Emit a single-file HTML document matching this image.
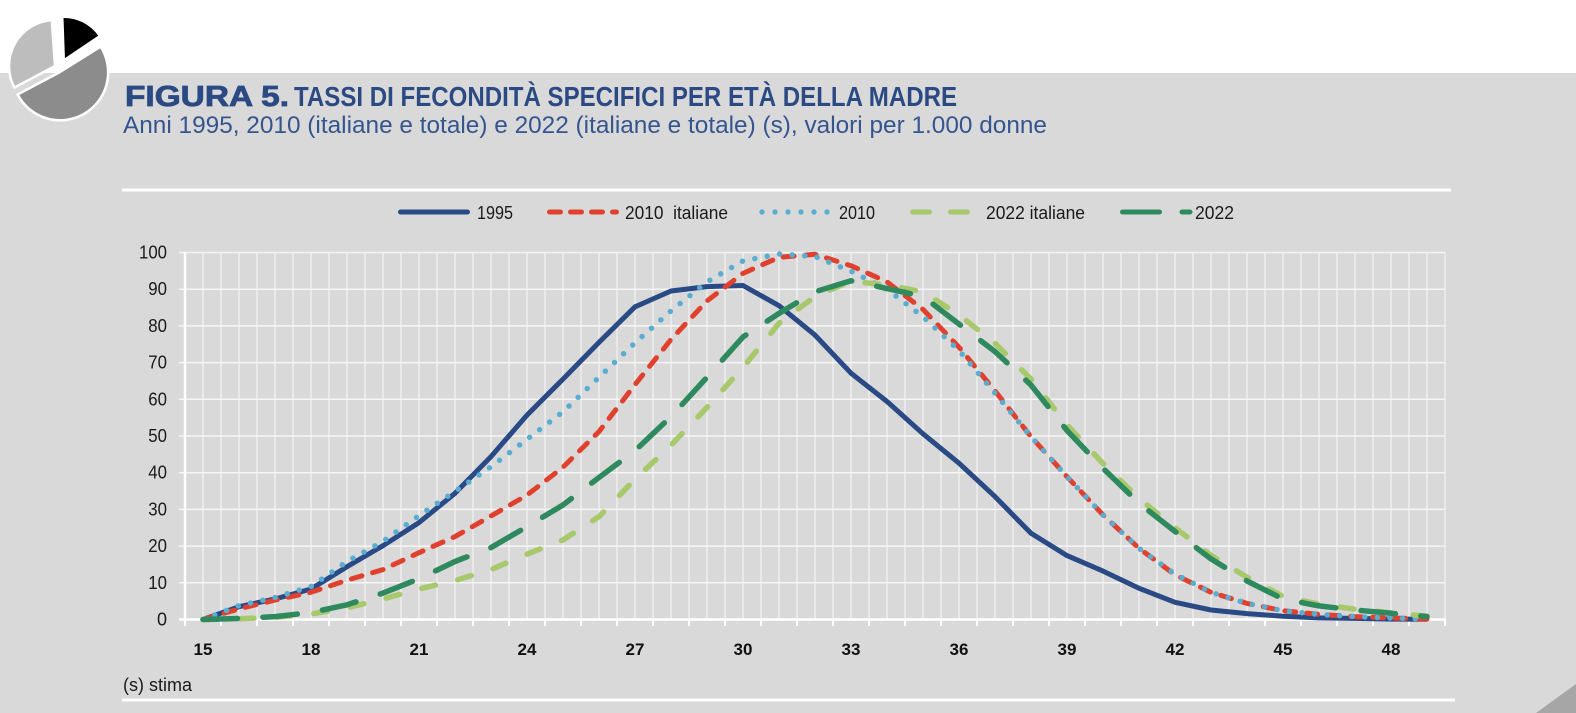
<!DOCTYPE html>
<html><head><meta charset="utf-8"><style>
html,body{margin:0;padding:0;background:#fff;}
svg{display:block;}
</style></head><body>
<svg width="1576" height="713" viewBox="0 0 1576 713" xmlns="http://www.w3.org/2000/svg">
<defs>
<pattern id="vg" x="184.4" y="0" width="18" height="713" patternUnits="userSpaceOnUse"><rect x="0" y="0" width="1.2" height="713" fill="#f3f3f3"/></pattern>
</defs>
<rect x="0" y="0" width="1576" height="713" fill="#ffffff"/>
<rect x="0" y="73" width="1576" height="640" fill="#d9d9d9"/>
<polygon points="1536,713 1576,713 1576,684" fill="#a6a6a6"/>

<!-- pie icon -->
<path d="M60,72 L100.7,46.6 A48,48 0 1 1 17.6,94.5 Z" fill="#8c8c8c" stroke="#fff" stroke-width="2.5"/>
<path d="M55,66 L14.4,87.6 A46,46 0 0 1 51.8,20.1 Z" fill="#bdbdbd" stroke="#fff" stroke-width="2.5"/>
<path d="M64,60 L62.5,17 A43,43 0 0 1 99.6,35.9 Z" fill="#000" stroke="#fff" stroke-width="2"/>

<!-- titles -->
<text x="125" y="106" font-family="Liberation Sans, Arial, sans-serif" font-weight="bold" font-size="29" fill="#2b4a84" stroke="#2b4a84" stroke-width="0.8" textLength="164" lengthAdjust="spacingAndGlyphs">FIGURA 5.</text>
<text x="294" y="106" font-family="Liberation Sans, Arial, sans-serif" font-weight="bold" font-size="28" fill="#2b4a84" textLength="663" lengthAdjust="spacingAndGlyphs">TASSI DI FECONDITÀ SPECIFICI PER ETÀ DELLA MADRE</text>
<text x="123" y="133" font-family="Liberation Sans, Arial, sans-serif" font-size="24" fill="#35558f" textLength="924" lengthAdjust="spacingAndGlyphs">Anni 1995, 2010 (italiane e totale) e 2022 (italiane e totale) (s), valori per 1.000 donne</text>

<!-- frame lines -->
<line x1="122" y1="190" x2="1451" y2="190" stroke="#fff" stroke-width="3"/>
<line x1="122" y1="700" x2="1455" y2="700" stroke="#fff" stroke-width="3"/>

<!-- legend -->
<g font-family="Liberation Sans, Arial, sans-serif" font-size="18" fill="#1a1a1a">
<line x1="400.5" y1="212" x2="467.5" y2="212" stroke="#2a4a85" stroke-width="5" stroke-linecap="round"/>
<text x="477" y="219" textLength="36" lengthAdjust="spacingAndGlyphs">1995</text>
<line x1="549.5" y1="212" x2="616.5" y2="212" stroke="#e0412f" stroke-width="5" stroke-linecap="round" stroke-dasharray="11 10"/>
<text x="625" y="219" textLength="103" lengthAdjust="spacingAndGlyphs">2010&#160; italiane</text>
<g fill="#5aadd0"><circle cx="762" cy="212" r="2.7"/><circle cx="775" cy="212" r="2.7"/><circle cx="788" cy="212" r="2.7"/><circle cx="801" cy="212" r="2.7"/><circle cx="814" cy="212" r="2.7"/><circle cx="827" cy="212" r="2.7"/></g>
<text x="839" y="219" textLength="36" lengthAdjust="spacingAndGlyphs">2010</text>
<line x1="912.5" y1="212" x2="929.5" y2="212" stroke="#a7c86b" stroke-width="5" stroke-linecap="round"/>
<line x1="950.5" y1="212" x2="967.5" y2="212" stroke="#a7c86b" stroke-width="5" stroke-linecap="round"/>
<text x="986" y="219" textLength="99" lengthAdjust="spacingAndGlyphs">2022 italiane</text>
<line x1="1122.5" y1="212" x2="1159.5" y2="212" stroke="#2e8a5e" stroke-width="5" stroke-linecap="round"/>
<line x1="1182" y1="212" x2="1190" y2="212" stroke="#2e8a5e" stroke-width="5" stroke-linecap="round"/>
<text x="1195" y="219" textLength="39" lengthAdjust="spacingAndGlyphs">2022</text>
</g>

<!-- grid -->
<rect x="184" y="252" width="1262" height="368" fill="url(#vg)"/>
<g stroke="#f5f5f5" stroke-width="1.5">
<line x1="179" y1="252.5" x2="1445" y2="252.5"/>
<line x1="179" y1="289.2" x2="1445" y2="289.2"/>
<line x1="179" y1="325.9" x2="1445" y2="325.9"/>
<line x1="179" y1="362.6" x2="1445" y2="362.6"/>
<line x1="179" y1="399.3" x2="1445" y2="399.3"/>
<line x1="179" y1="436" x2="1445" y2="436"/>
<line x1="179" y1="472.7" x2="1445" y2="472.7"/>
<line x1="179" y1="509.4" x2="1445" y2="509.4"/>
<line x1="179" y1="546.1" x2="1445" y2="546.1"/>
<line x1="179" y1="582.8" x2="1445" y2="582.8"/>
</g>
<line x1="185" y1="252" x2="185" y2="620" stroke="#fff" stroke-width="2.5"/>
<line x1="179" y1="619.5" x2="1446" y2="619.5" stroke="#fff" stroke-width="2.5"/>
<path d="M185 619V626M221 619V626M257 619V626M293 619V626M329 619V626M365 619V626M401 619V626M437 619V626M473 619V626M509 619V626M545 619V626M581 619V626M617 619V626M653 619V626M689 619V626M725 619V626M761 619V626M797 619V626M833 619V626M869 619V626M905 619V626M941 619V626M977 619V626M1013 619V626M1049 619V626M1085 619V626M1121 619V626M1157 619V626M1193 619V626M1229 619V626M1265 619V626M1301 619V626M1337 619V626M1373 619V626M1409 619V626M1445 619V626" stroke="#fff" stroke-width="2"/>

<!-- y labels -->
<g font-family="Liberation Sans, Arial, sans-serif" font-size="18" fill="#1a1a1a" text-anchor="end">
<text x="167" y="258.5" textLength="28" lengthAdjust="spacingAndGlyphs">100</text>
<text x="167" y="295.2" textLength="18.7" lengthAdjust="spacingAndGlyphs">90</text>
<text x="167" y="331.9" textLength="18.7" lengthAdjust="spacingAndGlyphs">80</text>
<text x="167" y="368.6" textLength="18.7" lengthAdjust="spacingAndGlyphs">70</text>
<text x="167" y="405.3" textLength="18.7" lengthAdjust="spacingAndGlyphs">60</text>
<text x="167" y="442" textLength="18.7" lengthAdjust="spacingAndGlyphs">50</text>
<text x="167" y="478.7" textLength="18.7" lengthAdjust="spacingAndGlyphs">40</text>
<text x="167" y="515.4" textLength="18.7" lengthAdjust="spacingAndGlyphs">30</text>
<text x="167" y="552.1" textLength="18.7" lengthAdjust="spacingAndGlyphs">20</text>
<text x="167" y="588.8" textLength="18.7" lengthAdjust="spacingAndGlyphs">10</text>
<text x="167" y="625.5">0</text>
</g>

<!-- x labels -->
<g font-family="Liberation Sans, Arial, sans-serif" font-size="17" font-weight="bold" fill="#111" text-anchor="middle">
<text x="203" y="655">15</text>
<text x="311" y="655">18</text>
<text x="419" y="655">21</text>
<text x="527" y="655">24</text>
<text x="635" y="655">27</text>
<text x="743" y="655">30</text>
<text x="851" y="655">33</text>
<text x="959" y="655">36</text>
<text x="1067" y="655">39</text>
<text x="1175" y="655">42</text>
<text x="1283" y="655">45</text>
<text x="1391" y="655">48</text>
</g>

<text x="123" y="691" font-family="Liberation Sans, Arial, sans-serif" font-size="18" fill="#1a1a1a">(s) stima</text>

<!-- series -->
<g fill="none" stroke-linejoin="round">
<polyline stroke="#2a4a85" stroke-width="5" points="203,619.5 239,606.7 275,599.0 311,589.0 347,566.7 383,545.7 419,522.6 455,493.3 491,456.6 527,415.1 563,379.1 599,342.4 635,306.8 671,291.0 707,286.6 743,285.5 779,305.7 815,335.1 851,373.2 887,401.5 923,433.8 959,463.2 995,496.6 1031,533.3 1067,555.6 1103,571.1 1139,588.3 1175,602.3 1211,610.0 1247,613.6 1283,616.2 1319,617.9 1355,618.4 1391,619.1 1427,619.3"/>
<polyline stroke="#e0412f" stroke-width="5" stroke-linecap="round" stroke-dasharray="11 11" points="203,619.5 239,608.9 275,600.1 311,592.3 347,580.2 383,569.6 419,552.7 455,536.6 491,516.0 527,495.1 563,467.2 599,431.6 635,384.6 671,339.5 707,300.9 743,273.4 779,257.3 815,254.3 851,265.7 887,281.9 923,309.4 959,347.2 995,390.9 1031,436.7 1067,476.7 1103,514.9 1139,548.3 1175,574.7 1211,592.3 1247,603.4 1283,610.7 1319,614.4 1355,616.6 1391,618.0 1427,619.0"/>
<polyline stroke="#5aadd0" stroke-width="5.5" stroke-linecap="round" stroke-dasharray="0 12.6" points="203,619.5 239,605.6 275,597.5 311,586.5 347,561.5 383,541.3 419,515.6 455,491.4 491,466.8 527,439.3 563,411.8 599,377.3 635,342.8 671,310.9 707,281.9 743,260.9 779,254.0 815,256.5 851,271.2 887,289.2 923,316.7 959,350.5 995,393.1 1031,436.7 1067,476.7 1103,514.9 1139,548.3 1175,574.0 1211,592.3 1247,603.4 1283,610.7 1319,614.4 1355,616.6 1391,618.0 1427,619.0"/>
<polyline stroke="#a7c86b" stroke-width="5.5" stroke-linecap="round" stroke-dasharray="14 23" points="203,619.5 239,618.8 275,617.3 311,614.0 347,607.8 383,599.0 419,589.0 455,580.6 491,569.6 527,554.2 563,539.9 599,516.7 635,479.3 671,445.2 707,407.4 743,367.4 779,323.3 815,296.5 851,281.1 887,285.2 923,291.8 959,314.9 995,343.2 1031,379.1 1067,425.0 1103,463.5 1139,498.4 1175,527.8 1211,555.3 1247,577.3 1283,596.4 1319,604.1 1355,609.2 1391,612.9 1427,616.2"/>
<polyline stroke="#2e8a5e" stroke-width="5.5" stroke-linecap="round" stroke-dasharray="34.5 25.5" points="203,619.5 239,618.4 275,616.6 311,612.5 347,604.8 383,593.1 419,578.8 455,561.5 491,547.6 527,526.6 563,505.0 599,477.5 635,450.7 671,416.6 707,377.3 743,336.9 779,313.4 815,291.8 851,280.8 887,288.5 923,296.5 959,324.1 995,351.6 1031,385.0 1067,430.5 1103,468.3 1139,503.2 1175,531.4 1211,558.9 1247,581.0 1283,599.0 1319,605.9 1355,610.0 1391,613.3 1427,616.6"/>
</g>
</svg>
</body></html>
